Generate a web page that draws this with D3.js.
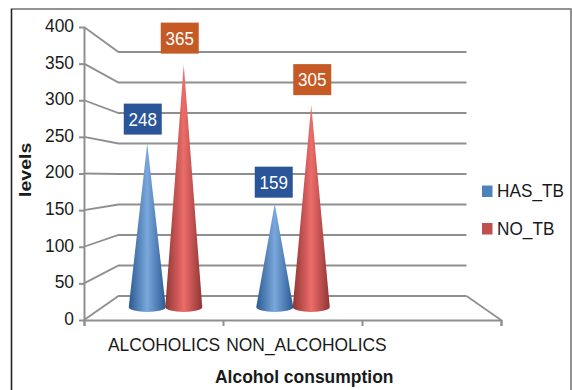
<!DOCTYPE html>
<html>
<head>
<meta charset="utf-8">
<script src="https://cdn.jsdelivr.net/npm/d3@7"></script>
<style>
html,body{margin:0;padding:0;background:#fff}
svg{display:block}
text{font-family:"Liberation Sans",Arial,sans-serif}
</style>
</head>
<body>
<svg id="chart" width="572" height="390"></svg>
<script>
const categories = ["ALCOHOLICS", "NON_ALCOHOLICS", ""];
const seriesNames = ["HAS_TB", "NO_TB"];
const hasTb = [248, 159];
const noTb = [365, 305];
const valueTicks = [0, 50, 100, 150, 200, 250, 300, 350, 400];
const seriesColors = ["#4f81bd", "#c0504d"];
const labelColors = ["#2a5599", "#c55a25"];

const svg = d3.select("#chart");
const ink = "#1a1a1a", rule = "#8f8f8f";

// Fits text to a fraction of its natural width, keeping the glyph height
function squeeze(sel, k) {
  sel.each(function () {
    const w = this.getComputedTextLength();
    d3.select(this).attr("textLength", w * k).attr("lengthAdjust", "spacingAndGlyphs");
  });
}

// Chart frame: the bottom edge falls outside the page
svg.append("path")
  .attr("d", "M11.5,392V9H571V392")
  .attr("fill", "none").attr("stroke", "#6f6f6f").attr("stroke-width", 1.5);
svg.append("path").attr("d", "M11.5,9V392").attr("stroke", "#222").attr("stroke-width", 1.3);

// Three planes of the 3-D box: front edge, back wall, and mid-depth where the cones stand
const yFront = d3.scaleLinear().domain([0, 400]).range([320, 27]);
const yBack = d3.scaleLinear().domain([0, 400]).range([296, 52]);
const yCone = d3.scaleLinear().domain([0, 400]).range([311, 41]);
const xFront = d3.scalePoint().domain(d3.range(4)).range([84, 501]);
const xCone = d3.scaleBand().domain(categories).range([101.75, 484.25]);
const xSeries = d3.scaleBand().domain(seriesNames).range([-36.5, 36.5]);
const backLeft = 118.5, backRight = 466.5;

// Gridlines run along the side wall, then across the back wall
const grid = svg.append("g").attr("fill", "none").attr("stroke", rule).attr("stroke-width", 1.8);
grid.selectAll("path").data(valueTicks).join("path")
  .attr("d", v => d3.line()([[xFront(0), yFront(v)], [backLeft, yBack(v)], [backRight, yBack(v)]]));
grid.append("path")
  .attr("d", d3.line()([[backRight, yBack(0)], [xFront(3), yFront(0)]]));

// Axes
const yAxis = svg.append("g").attr("transform", `translate(${xFront(0)},0)`)
  .call(d3.axisLeft(yFront).tickValues(valueTicks).tickSize(5).tickPadding(5).tickSizeOuter(0));
const xAxis = svg.append("g").attr("transform", `translate(0,${yFront(0)})`)
  .call(d3.axisBottom(xFront).tickSize(6).tickFormat(""));
[yAxis, xAxis].forEach(a => {
  a.selectAll("path.domain,line").attr("stroke", rule).attr("stroke-width", 2);
});
yAxis.selectAll("text").attr("font-size", 18.5).attr("fill", ink).attr("y", -1.5).call(squeeze, 0.94);

// Horizontal shading that gives each cone its rounded look
const defs = svg.append("defs");
const shades = [["#2b5a93", "#7aa8dc"], ["#8f3533", "#ec6d6a"]];
shades.forEach((s, i) => {
  const g = defs.append("linearGradient").attr("id", "shade" + i);
  g.append("stop").attr("offset", "0%").attr("stop-color", s[0]);
  g.append("stop").attr("offset", "50%").attr("stop-color", s[1]);
  g.append("stop").attr("offset", "100%").attr("stop-color", s[0]);
});

const rows = categories.slice(0, 2).flatMap((c, i) => [
  { cat: c, series: 0, value: hasTb[i] },
  { cat: c, series: 1, value: noTb[i] }
]);
const coneX = d => xCone(d.cat) + xCone.bandwidth() / 2 + xSeries(seriesNames[d.series]) + xSeries.bandwidth() / 2;

// Each cone is drawn from its value; the base is a shallow ellipse
const baseRx = 18.5, baseRy = 5;
svg.append("g").selectAll("path").data(rows).join("path")
  .attr("fill", d => `url(#shade${d.series})`)
  .attr("d", d => {
    const x = coneX(d), tip = yCone(d.value), base = yCone(0) - 4;
    return `M${x},${tip}L${x + baseRx},${base}A${baseRx},${baseRy} 0 0 1 ${x - baseRx},${base}Z`;
  });

// Value boxes sit above the tips
const nudge = [[-4.5, -24.5], [-4, -26.5], [-1, -21.5], [1, -25.5]];
const labels = svg.append("g").selectAll("g").data(rows).join("g")
  .attr("transform", (d, i) => `translate(${coneX(d) + nudge[i][0]},${yCone(d.value) + nudge[i][1]})`);
labels.append("rect").attr("x", -19).attr("y", -15.5).attr("width", 38).attr("height", 31)
  .attr("fill", d => labelColors[d.series]);
labels.append("text").attr("text-anchor", "middle").attr("y", 6.5)
  .attr("font-size", 18.5).attr("fill", "#fff").text(d => d.value).call(squeeze, 0.92);

// Category labels
svg.append("g").selectAll("text").data(categories.slice(0, 2)).join("text")
  .attr("x", (d, i) => [164, 306.5][i]).attr("y", 351)
  .attr("text-anchor", "middle").attr("font-size", 18.5).attr("fill", ink).text(d => d).call(squeeze, 0.94);

// Axis titles
svg.append("text").attr("x", 215).attr("y", 383)
  .attr("font-size", 18).attr("font-weight", "bold").attr("fill", ink).text("Alcohol consumption").call(squeeze, 0.97);
svg.append("text").attr("transform", "translate(31,197) rotate(-90)")
  .attr("font-size", 17).attr("font-weight", "bold").attr("fill", ink).text("levels").call(squeeze, 1.15);

// Legend
const legend = svg.append("g").selectAll("g").data(seriesNames).join("g")
  .attr("transform", (d, i) => `translate(482,${191 + i * 37.5})`);
legend.append("rect").attr("y", -5.5).attr("width", 10.5).attr("height", 11.5)
  .attr("fill", (d, i) => seriesColors[i]);
legend.append("text").attr("x", 15).attr("y", 6)
  .attr("font-size", 18.5).attr("fill", ink).text(d => d).call(squeeze, 0.93);
</script>
</body>
</html>
